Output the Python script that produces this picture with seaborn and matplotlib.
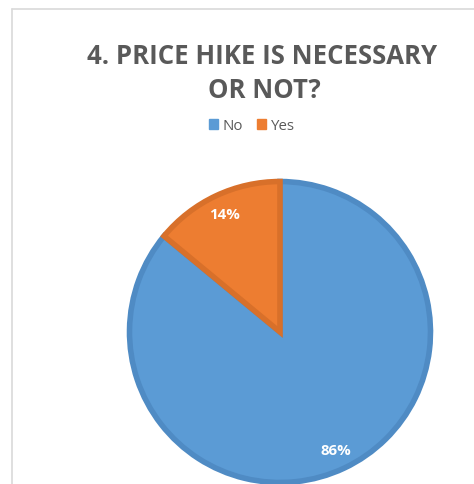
import matplotlib
matplotlib.use("Agg")
import matplotlib.pyplot as plt
from matplotlib.patches import Patch
from matplotlib.lines import Line2D
import seaborn as sns

# Survey answers
answers = ["No", "Yes"]
shares = [86, 14]
colors = ["#5B9BD5", "#ED7D31"]
edge_colors = ["#4F8BC4", "#D8702A"]
title_lines = ["4. PRICE HIKE IS NECESSARY", "OR NOT?"]

sns.set_theme(style="white")
plt.rcParams["font.family"] = ["Open Sans", "DejaVu Sans"]

W, H = 474, 485
fig = plt.figure(figsize=(W / 100, H / 100), dpi=100)
fig.patch.set_facecolor("white")

# chart frame (top and left edges visible)
fig.add_artist(Line2D([12 / W, 12 / W], [0, 1 - 10 / H], color="#d9d9d9", lw=1.2,
                      transform=fig.transFigure))
fig.add_artist(Line2D([12 / W, 1], [1 - 10 / H, 1 - 10 / H], color="#d9d9d9", lw=1.2,
                      transform=fig.transFigure))

# pie area
cx, cy, r = 280, 333, 152
ax = fig.add_axes([(cx - r) / W, (H - cy - r) / H, 2 * r / W, 2 * r / H])
wedges, texts, autotexts = ax.pie(
    shares, colors=colors, startangle=90, counterclock=False,
    autopct="%d%%", pctdistance=0.87, radius=1.0,
    wedgeprops=dict(linewidth=4),
    textprops=dict(color="white", fontsize=10.8, fontweight="bold"),
)
for w, ec in zip(wedges, edge_colors):
    w.set_edgecolor(ec)
    w.set_joinstyle("miter")
ax.set_xlim(-1.01, 1.01)
ax.set_ylim(-1.01, 1.01)
ax.set_aspect("auto")
ax.axis("off")

# title
fig.text(262 / W, 1 - 57 / H, title_lines[0], ha="center", va="center",
         fontsize=18.5, fontweight="bold", color="#595959")
fig.text(264 / W, 1 - 91 / H, title_lines[1], ha="center", va="center",
         fontsize=18.5, fontweight="bold", color="#595959")

# legend
handles = [Patch(facecolor=c, edgecolor=c, label=a) for a, c in zip(answers, colors)]
leg = fig.legend(handles=handles, loc="center", bbox_to_anchor=(252 / W, 1 - 127 / H),
                 ncol=2, frameon=False, fontsize=10.8, handlelength=0.6, handleheight=0.6,
                 handletextpad=0.35, columnspacing=0.9, borderpad=0)
for t in leg.get_texts():
    t.set_color("#595959")

fig.savefig("out.png", dpi=100, facecolor="white")
